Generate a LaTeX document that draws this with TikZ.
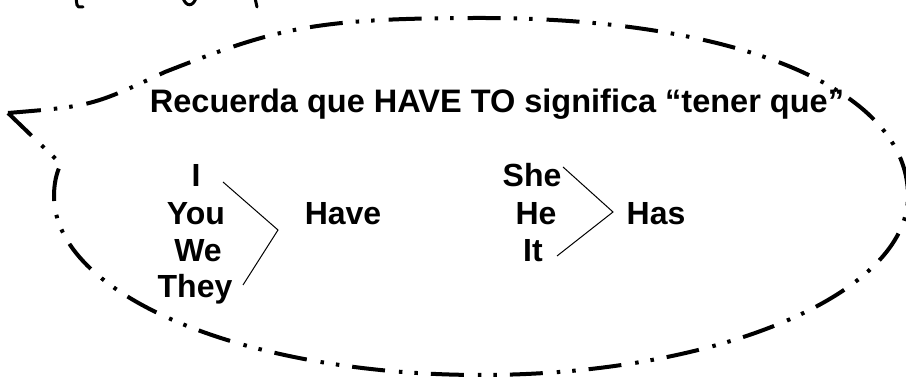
\documentclass[tikz,border=0pt]{standalone}
\usepackage{fontspec}
\setmainfont{Liberation Sans}
\usetikzlibrary{positioning}

\tikzset{
  bubble/.style={line width=4pt, dash pattern=on 33pt off 13pt on 3.5pt off 12pt on 3.5pt off 14pt},
  word/.style={font=\fontsize{32}{38}\selectfont\bfseries, inner sep=0pt, anchor=base},
  title/.style={word, font=\fontsize{32.5}{38}\selectfont\bfseries},
  brace/.style={line width=1pt},
  scribble/.style={line width=3pt, line cap=round}
}

\begin{document}
\begin{tikzpicture}[x=1pt,y=1pt]
  \useasboundingbox (0,0) rectangle (906,379);
  %globo
  \coordinate (tip) at (8,266);
  \coordinate (join) at (165,307);
  \coordinate (top) at (481,361);
  \coordinate (right) at (908,183);
  \coordinate (bottom) at (481,4);
  \coordinate (left) at (54,183);
  \coordinate (low) at (61,215);
  \draw[bubble] (tip) .. controls (92,273) .. (join)
    .. controls (275,350) and (310,361) .. (top)
    .. controls (737,361) and (908,290) .. (right)
    .. controls (908,85) and (717,4) .. (bottom)
    .. controls (245,4) and (54,84) .. (left)
    .. controls (54,194) and (56,206) .. (low)
    -- cycle;
  %restos de letra arriba
  \draw[scribble] (76,381) -- (77,374) .. controls (78,372) .. (83,372);
  \draw[scribble] (183,381) .. controls (186,372) and (193,372) .. (196,381);
  \draw[scribble] (255,381) -- (257,372);
  %titulo
  \node[title] (tit) at (497,266) {Recuerda que HAVE TO significa “tener que”};
  %have
  \node[word] (i) at (196,192) {I};
  \node[word] (you) at (196,154) {You};
  \node[word] (we) at (198,117) {We};
  \node[word] (they) at (195,81) {They};
  \draw[brace] (223,197) -- (278,149) -- (243,94);
  \node[word] (have) at (343,154) {Have};
  %has
  \node[word] (she) at (532,192) {She};
  \node[word] (he) at (536,154) {He};
  \node[word] (it) at (533,117) {It};
  \draw[brace] (563,212) -- (613,167) -- (557,123);
  \node[word] (has) at (656,154) {Has};
\end{tikzpicture}
\end{document}
